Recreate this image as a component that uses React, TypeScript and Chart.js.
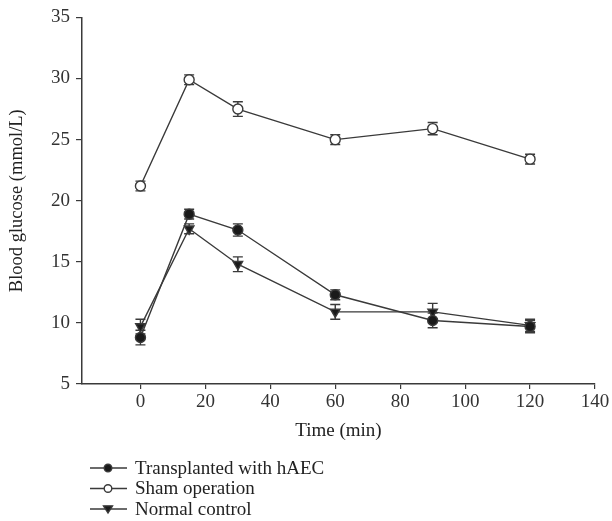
import React, { useEffect, useRef } from "react";
import { Chart, registerables } from "chart.js";

Chart.register(...registerables);

const timePoints = [0, 15, 30, 60, 90, 120];

const transplanted = [8.8, 18.9, 17.6, 12.3, 10.2, 9.7];
const transplantedErr = [0.6, 0.4, 0.5, 0.4, 0.6, 0.5];

const sham = [21.2, 29.9, 27.5, 25.0, 25.9, 23.4];
const shamErr = [0.4, 0.4, 0.6, 0.4, 0.5, 0.4];

const normal = [9.7, 17.7, 14.8, 10.9, 10.9, 9.8];
const normalErr = [0.6, 0.4, 0.6, 0.6, 0.7, 0.5];

const xTicks = [0, 20, 40, 60, 80, 100, 120, 140];
const yTicks = [5, 10, 15, 20, 25, 30, 35];

const seriesLabels = ["Transplanted with hAEC", "Sham operation", "Normal control"];

const INK = "#3a3a3a";
const FONT = "'Liberation Serif', 'Times New Roman', serif";

const errorBarPlugin = {
  id: "errorBars",
  beforeDatasetsDraw(chart: any) {
    const ctx = chart.ctx;
    const xs = chart.scales.x;
    const ys = chart.scales.y;
    ctx.save();
    ctx.strokeStyle = INK;
    ctx.lineWidth = 1.4;
    chart.data.datasets.forEach((ds: any) => {
      const errs: number[] = ds.errors || [];
      ds.data.forEach((p: any, i: number) => {
        const e = errs[i];
        if (!e) return;
        const px = xs.getPixelForValue(p.x);
        const yTop = ys.getPixelForValue(p.y + e);
        const yBot = ys.getPixelForValue(p.y - e);
        const cap = 5;
        ctx.beginPath();
        ctx.moveTo(px, yTop);
        ctx.lineTo(px, yBot);
        ctx.moveTo(px - cap, yTop);
        ctx.lineTo(px + cap, yTop);
        ctx.moveTo(px - cap, yBot);
        ctx.lineTo(px + cap, yBot);
        ctx.stroke();
      });
    });
    ctx.restore();
  },
};

const legendPlugin = {
  id: "customLegend",
  afterDraw(chart: any) {
    const ctx = chart.ctx;
    const left = chart.chartArea.left + 8;
    const startY = 468;
    const rowH = 20.5;
    ctx.save();
    chart.data.datasets.forEach((ds: any, i: number) => {
      const y = startY + i * rowH;
      ctx.strokeStyle = INK;
      ctx.lineWidth = 1.4;
      ctx.beginPath();
      ctx.moveTo(left, y);
      ctx.lineTo(left + 37, y);
      ctx.stroke();
      const cx = left + 18;
      ctx.beginPath();
      if (ds.pointStyle === "triangle") {
        const r = 4.5;
        ctx.moveTo(cx - r, y - r * 0.7);
        ctx.lineTo(cx + r, y - r * 0.7);
        ctx.lineTo(cx, y + r * 0.9);
        ctx.closePath();
      } else {
        ctx.arc(cx, y, 3.8, 0, Math.PI * 2);
      }
      ctx.fillStyle = ds.pointBackgroundColor;
      ctx.fill();
      ctx.stroke();
      ctx.fillStyle = "#222";
      ctx.font = `19px ${FONT}`;
      ctx.textBaseline = "middle";
      ctx.textAlign = "left";
      ctx.fillText(ds.label, left + 45, y + 1);
    });
    ctx.restore();
  },
};

function toPoints(vals: number[]) {
  return vals.map((v, i) => ({ x: timePoints[i], y: v }));
}

export default function App() {
  const canvasRef = useRef<HTMLCanvasElement | null>(null);

  useEffect(() => {
    if (!canvasRef.current) return;
    const common = {
      borderColor: INK,
      borderWidth: 1.4,
      pointBorderColor: INK,
      pointBorderWidth: 1.4,
      pointRadius: 5,
      tension: 0,
      fill: false,
    };
    const chart = new Chart(canvasRef.current, {
      type: "line",
      data: {
        datasets: [
          {
            ...common,
            label: seriesLabels[0],
            data: toPoints(transplanted),
            errors: transplantedErr,
            pointStyle: "circle",
            pointBackgroundColor: "#1a1a1a",
          } as any,
          {
            ...common,
            label: seriesLabels[1],
            data: toPoints(sham),
            errors: shamErr,
            pointStyle: "circle",
            pointBackgroundColor: "#ffffff",
          } as any,
          {
            ...common,
            label: seriesLabels[2],
            data: toPoints(normal),
            errors: normalErr,
            pointStyle: "triangle",
            pointRotation: 180,
            pointRadius: 5.5,
            pointBackgroundColor: "#1a1a1a",
          } as any,
        ],
      },
      options: {
        animation: false,
        responsive: false,
        maintainAspectRatio: false,
        layout: { padding: { left: 0, right: 17, top: 15, bottom: 77 } },
        plugins: {
          legend: { display: false },
          tooltip: { enabled: false },
        },
        scales: {
          x: {
            type: "linear",
            min: -18,
            max: 140,
            afterBuildTicks: (scale: any) => {
              scale.ticks = xTicks.map((v) => ({ value: v }));
            },
            afterFit: (scale: any) => {
              scale.height = 60;
            },
            grid: {
              drawOnChartArea: false,
              drawTicks: true,
              tickLength: 5,
              color: INK,
              lineWidth: 1.2,
            },
            border: { display: true, color: INK, width: 1.5 },
            ticks: {
              color: "#333",
              font: { family: FONT, size: 19 },
              padding: 2,
              maxRotation: 0,
              autoSkip: false,
            },
            title: {
              display: true,
              text: "Time (min)",
              color: "#222",
              font: { family: FONT, size: 19 },
              padding: { top: 0, bottom: 2 },
            },
          },
          y: {
            type: "linear",
            min: 5,
            max: 35,
            afterBuildTicks: (scale: any) => {
              scale.ticks = yTicks.map((v) => ({ value: v }));
            },
            afterFit: (scale: any) => {
              scale.width = 82;
            },
            grid: {
              drawOnChartArea: false,
              drawTicks: true,
              tickLength: 6,
              color: INK,
              lineWidth: 1.2,
            },
            border: { display: true, color: INK, width: 1.5 },
            ticks: {
              color: "#333",
              font: { family: FONT, size: 19 },
              padding: 6,
            },
            title: {
              display: true,
              text: "Blood glucose (mmol/L)",
              color: "#222",
              font: { family: FONT, size: 18.5 },
              padding: { top: 6, bottom: 0 },
            },
          },
        },
      } as any,
      plugins: [errorBarPlugin, legendPlugin],
    });
    return () => chart.destroy();
  }, []);

  return (
    <div
      style={{
        position: "fixed",
        left: 0,
        top: 0,
        width: 612,
        height: 521,
        background: "#ffffff",
      }}
    >
      <canvas ref={canvasRef} width={612} height={521} style={{ width: 612, height: 521 }} />
    </div>
  );
}
